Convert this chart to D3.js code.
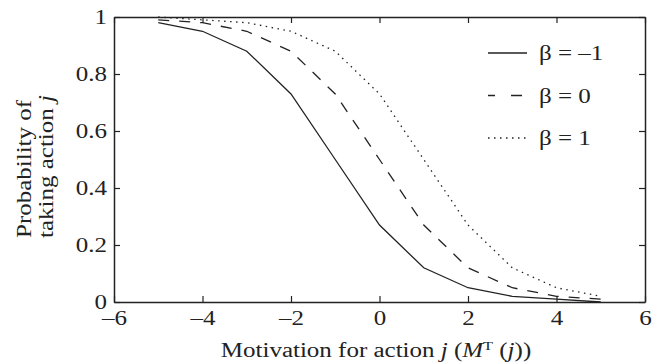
<!DOCTYPE html>
<html>
<head>
<meta charset="utf-8">
<script src="https://cdn.jsdelivr.net/npm/d3@7"></script>
<style>
	body { margin: 0; background: #fff; }
	text { font-family: 'Liberation Serif', 'DejaVu Serif', serif; fill: #222; font-size: 20px; }
</style>
</head>
<body>
<svg id="chart" width="664" height="363"></svg>
<script>
const motivation = [-5, -4, -3, -2, -1, 0, 1, 2, 3, 4, 5];
const betaMinus1 = [0.98, 0.95, 0.88, 0.73, 0.5, 0.27, 0.12, 0.05, 0.02, 0.01, 0.0];
const betaZero = [0.99, 0.98, 0.95, 0.88, 0.73, 0.5, 0.27, 0.12, 0.05, 0.02, 0.01];
const betaPlus1 = [1.0, 0.99, 0.98, 0.95, 0.88, 0.73, 0.5, 0.27, 0.12, 0.05, 0.02];
const xTicks = [-6, -4, -2, 0, 2, 4, 6];
const yTicks = [0, 0.2, 0.4, 0.6, 0.8, 1];
const seriesLabels = ['β = –1', 'β = 0', 'β = 1'];

const ink = '#222';
const stretch = 1.25; // the reference face is wider than Liberation Serif
const plotLeft = 114, plotRight = 645, plotTop = 17, plotBottom = 302;
const svg = d3.select('#chart');

const x = d3.scaleLinear().domain([-6, 6]).range([plotLeft, plotRight]);
const y = d3.scaleLinear().domain([0, 1]).range([plotBottom, plotTop]);

const series = [
	{ label: seriesLabels[0], values: betaMinus1, dash: null, legendDash: null },
	{ label: seriesLabels[1], values: betaZero, dash: '11,10', legendDash: '7,16,11,100' },
	{ label: seriesLabels[2], values: betaPlus1, dash: '1.5,4.5', legendDash: '1.5,4.5' }
];

// widen text horizontally around its anchor point
const widen = (sel) => {
	sel.each(function () {
		const t = d3.select(this);
		const tx = +t.attr('x') || 0;
		t.attr('x', 0).attr('transform', 'translate(' + tx + ',0) scale(' + stretch + ',1)');
	});
};

// axes, ticks pointing inwards on every side
const fmtY = (d) => (d === 0 || d === 1 ? d3.format('d')(d) : d3.format('.1f')(d));
const styleAxis = (g) => {
	g.select('.domain').attr('stroke', ink).attr('stroke-width', 1.5).attr('fill', 'none');
	g.selectAll('.tick line').attr('stroke', ink).attr('stroke-width', 1.2);
	g.selectAll('.tick text').style('font-size', '20px').style('font-family', null).attr('fill', ink).call(widen);
	g.attr('font-family', null).attr('font-size', null);
};

svg.append('g')
	.attr('transform', 'translate(0,' + plotBottom + ')')
	.call(d3.axisBottom(x).tickValues(xTicks).tickSizeInner(-6).tickSizeOuter(0).tickPadding(9).tickFormat((d) => (d < 0 ? '–' + Math.abs(d) : d)))
	.call(styleAxis);

svg.append('g')
	.attr('transform', 'translate(0,' + plotTop + ')')
	.call(d3.axisTop(x).tickValues(xTicks).tickSizeInner(-6).tickSizeOuter(0).tickFormat(''))
	.call(styleAxis);

svg.append('g')
	.attr('transform', 'translate(' + plotLeft + ',0)')
	.call(d3.axisLeft(y).tickValues(yTicks).tickSizeInner(-6).tickSizeOuter(0).tickPadding(7).tickFormat(fmtY))
	.call(styleAxis);

svg.append('g')
	.attr('transform', 'translate(' + plotRight + ',0)')
	.call(d3.axisRight(y).tickValues(yTicks).tickSizeInner(-6).tickSizeOuter(0).tickFormat(''))
	.call(styleAxis);

// curves
const line = d3.line().x((d) => x(d[0])).y((d) => y(d[1]));

series.forEach((s) => {
	svg.append('path')
		.datum(motivation.map((m, i) => [m, s.values[i]]))
		.attr('d', line)
		.attr('fill', 'none')
		.attr('stroke', ink)
		.attr('stroke-width', 1.3)
		.attr('stroke-dasharray', s.dash);
});

// legend
const legend = svg.append('g').attr('transform', 'translate(488,53)');
series.forEach((s, i) => {
	const row = legend.append('g').attr('transform', 'translate(0,' + i * 42.5 + ')');
	row.append('line')
		.attr('x1', 0).attr('x2', 39)
		.attr('stroke', ink)
		.attr('stroke-width', 1.3)
		.attr('stroke-dasharray', s.legendDash);
	row.append('text')
		.attr('x', 51)
		.attr('dy', '0.35em')
		.text(s.label)
		.call(widen);
});

// axis titles
const xTitle = svg.append('text')
	.attr('transform', 'translate(376,357) scale(' + stretch + ',1)')
	.attr('text-anchor', 'middle');
xTitle.append('tspan').text('Motivation for action ');
xTitle.append('tspan').style('font-style', 'italic').text('j');
xTitle.append('tspan').text(' (');
xTitle.append('tspan').style('font-style', 'italic').text('M');
xTitle.append('tspan').attr('dy', -7).style('font-size', '13px').text('T');
xTitle.append('tspan').attr('dy', 7).text(' (');
xTitle.append('tspan').style('font-style', 'italic').text('j');
xTitle.append('tspan').text('))');

const yTitle = svg.append('text')
	.attr('transform', 'translate(31,238) rotate(-90) scale(' + stretch + ',1)')
	.attr('text-anchor', 'start');
yTitle.append('tspan').attr('x', 0).attr('dy', 0).text('Probability of');
const yLine2 = yTitle.append('tspan').attr('x', 0).attr('dy', 22);
yLine2.append('tspan').text('taking action ');
yLine2.append('tspan').style('font-style', 'italic').text('j');
</script>
</body>
</html>
